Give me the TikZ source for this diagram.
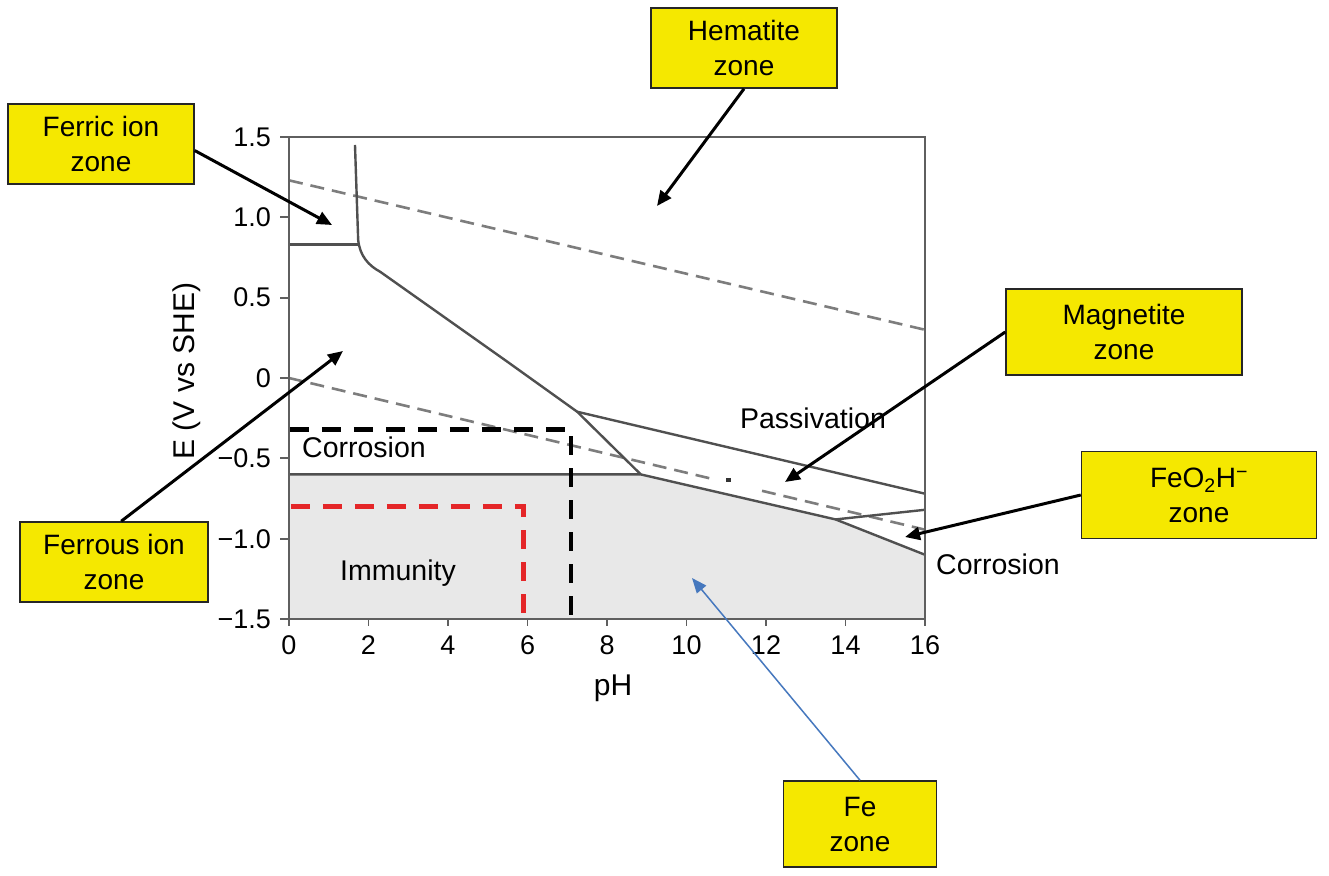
\documentclass[tikz,border=0pt]{standalone}
\usepackage{fontspec}
\setmainfont{Liberation Sans}
\usetikzlibrary{arrows.meta}
\definecolor{boxyellow}{RGB}{245,232,0}
\definecolor{plotgray}{RGB}{80,80,80}
\definecolor{framegray}{RGB}{95,95,95}
\definecolor{dashgray}{RGB}{125,125,125}
\definecolor{fillgray}{RGB}{232,232,232}
\definecolor{arrowblue}{RGB}{70,120,190}
\definecolor{redline}{RGB}{228,38,40}
\tikzset{
  zonebox/.style={draw=black!85, line width=1.5pt, fill=boxyellow, align=center, inner sep=0pt, font=\fontsize{28}{35}\selectfont},
  callout/.style={-{Triangle[length=15pt,width=13pt]}, line width=3pt, black},
  bluecallout/.style={-{Triangle[length=15pt,width=12pt]}, line width=1.5pt, arrowblue},
  boundary/.style={plotgray, line width=2.4pt, line join=round},
  waterline/.style={dashgray, line width=2.6pt, dash pattern=on 14pt off 8pt},
  thickdash/.style={line width=4.3pt, dash pattern=on 19pt off 13pt},
  plotlabel/.style={font=\fontsize{28.5}{34}\selectfont, inner sep=0pt},
  ticklabel/.style={font=\fontsize{27}{32}\selectfont, inner sep=0pt},
  axislabel/.style={font=\fontsize{30}{36}\selectfont, inner sep=0pt},
  tickmark/.style={framegray, line width=1.8pt},
}
\begin{document}
\begin{tikzpicture}[x=1pt,y=-1pt]
\useasboundingbox[fill=white] (0,0) rectangle (1329,875);

% ---------- plot (data coordinates: pH, E) ----------
\begin{scope}[shift={(289,378)}, x=39.75pt, y=160.7pt]
  \fill[fillgray] (0,-0.6) -- (8.85,-0.6) -- (13.75,-0.88) -- (16,-1.1) -- (16,-1.5) -- (0,-1.5) -- cycle;
  % water stability lines
  \draw[waterline] (0,1.23) -- (16,0.30);
  \draw[waterline] (0,0) -- (10.6,-0.625);
  \draw[waterline] (11.9,-0.702) -- (16,-0.944);
  \fill[black!80] (11.0,-0.625) rectangle (11.12,-0.65);
  % phase boundaries
  \draw[boundary] (1.66,1.45) -- (1.74,0.86) .. controls (1.78,0.76) and (2.0,0.70) .. (2.3,0.66) -- (5.5,0.1) -- (7.25,-0.21) -- (8.85,-0.6);
  \draw[boundary] (0,0.83) -- (1.74,0.83);
  \draw[boundary] (0,-0.6) -- (8.85,-0.6) -- (13.75,-0.88) -- (16,-1.1);
  \draw[boundary] (7.25,-0.21) -- (16,-0.72);
  \draw[boundary] (13.75,-0.88) -- (16,-0.82);
  % frame
  \draw[framegray, line width=2.4pt] (0,-1.5) rectangle (16,1.5);
  % dashed markers
  \draw[black, thickdash] (0.02,-0.32) -- (7.1,-0.32) -- (7.1,-1.5);
  \draw[redline, thickdash] (0.05,-0.8) -- (5.9,-0.8) -- (5.9,-1.5);
\end{scope}

% ---------- axes ticks and labels ----------
\foreach \v/\t [count=\i] in {1.5/1.5, 1/1.0, 0.5/0.5, 0/0, -0.5/−0.5, -1/−1.0, -1.5/−1.5}{
  \draw[tickmark] (280,{378-\v*160.7}) -- (289,{378-\v*160.7});
  \node[ticklabel, anchor=east] (ylab\i) at (271,{378-\v*160.7}) {\t};
}
\foreach \p in {0,2,...,16}{
  \draw[tickmark] ({289+\p*39.75},619) -- ({289+\p*39.75},626);
  \node[ticklabel] (xlab\p) at ({289+\p*39.75},645) {\p};
}
\node[axislabel] (xaxis) at (613,688) {pH};
\node[axislabel, rotate=90] (yaxis) at (187,371) {E (V vs SHE)};

% ---------- region labels ----------
\node[plotlabel] (corrL) at (364,447) {Corrosion};
\node[plotlabel] (immunity) at (398,573) {Immunity};
\node[plotlabel] (passiv) at (813,418) {Passivation};
\node[plotlabel] (corrR) at (998,564) {Corrosion};

% ---------- arrow tips ----------
\coordinate (ferricTip) at (332,225);
\coordinate (hemTip) at (657,206);
\coordinate (magTip) at (785,482);
\coordinate (feoTip) at (905,537);
\coordinate (ferrousTip) at (343,351);
\coordinate (feTip) at (692,578);

% ---------- zone boxes ----------
\node[zonebox, minimum width=186pt, minimum height=80pt] (hematite) at (744,48) {Hematite\\zone};
\node[zonebox, minimum width=186pt, minimum height=80pt] (ferric) at (101,144) {Ferric ion\\zone};
\node[zonebox, minimum width=236pt, minimum height=86pt] (magnetite) at (1124,332) {Magnetite\\zone};
\node[zonebox, minimum width=235pt, minimum height=87pt] (feo2h) at (1199,495) {FeO\textsubscript{2}H\textsuperscript{−}\\zone};
\node[zonebox, minimum width=188pt, minimum height=80pt] (ferrous) at (114,562) {Ferrous ion\\zone};
\node[zonebox, minimum width=153pt, minimum height=86pt] (fe) at (860,824) {Fe\\zone};

% ---------- callout arrows ----------
\draw[callout] (ferric.-4) -- (ferricTip);
\draw[callout] (hematite.south) -- (hemTip);
\draw[callout] (magnetite.west) -- (magTip);
\draw[callout] (feo2h.west) -- (feoTip);
\draw[callout] (ferrous.80) -- (ferrousTip);
\draw[bluecallout] (fe.north) -- (feTip);
\end{tikzpicture}
\end{document}
